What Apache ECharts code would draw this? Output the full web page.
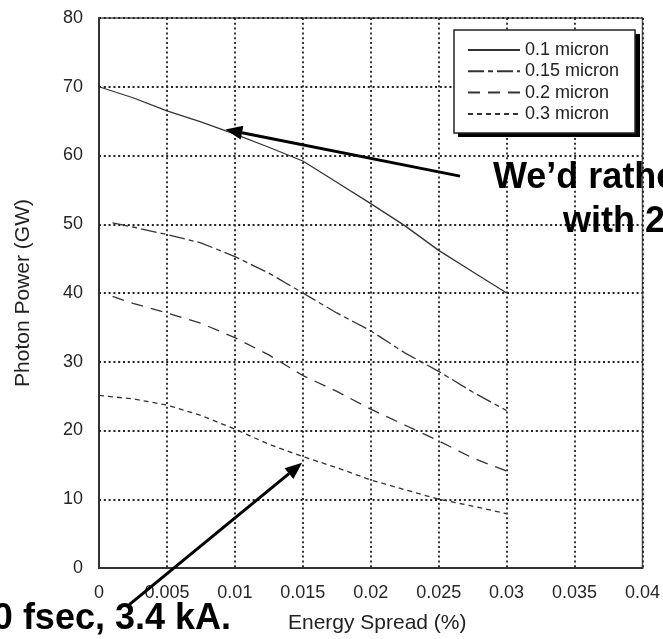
<!DOCTYPE html>
<html>
<head>
<meta charset="utf-8">
<script src="https://cdn.jsdelivr.net/npm/echarts@6/dist/echarts.min.js"></script>
<style>
  html, body { margin: 0; padding: 0; background: #fff; }
  #chart { width: 663px; height: 639px; }
</style>
</head>
<body>
<div id="chart"></div>
<script>
(function () {
  "use strict";
  const chart = echarts.init(document.getElementById("chart"));

  // energy spread (%) sample points
  const X_FULL = [0, 0.0025, 0.005, 0.0075, 0.01, 0.0125, 0.015, 0.0175, 0.02, 0.0225, 0.025, 0.0275, 0.03];
  const X_LATE = [0.001, 0.0025, 0.005, 0.0075, 0.01, 0.0125, 0.015, 0.0175, 0.02, 0.0225, 0.025, 0.0275, 0.03];
  // photon power (GW)
  const P_010 = [70.0, 68.4, 66.5, 64.9, 63.1, 61.2, 59.2, 56.1, 53.0, 49.8, 46.2, 43.1, 40.0];
  const P_015 = [50.2, 49.6, 48.5, 47.3, 45.3, 42.9, 40.0, 37.1, 34.5, 31.3, 28.6, 25.6, 22.9];
  const P_020 = [39.5, 38.5, 37.1, 35.6, 33.5, 31.0, 28.0, 25.7, 23.1, 20.8, 18.5, 16.0, 14.1];
  const P_030 = [25.1, 24.6, 23.7, 22.2, 20.2, 18.0, 16.2, 14.6, 12.8, 11.4, 10.0, 9.0, 7.9];
  const NAMES = ["0.1 micron", "0.15 micron", "0.2 micron", "0.3 micron"];

  const zip = (xs, ys) => xs.map((x, i) => [x, ys[i]]);
  const FONT = '"Liberation Sans", Arial, sans-serif';
  const BOLD = 'bold 36px "Liberation Sans", Arial, sans-serif';

  const curve = (name, xs, ys, type) => ({
    name, type: "line", data: zip(xs, ys), symbol: "none", smooth: false,
    lineStyle: { color: "#333", width: 1.3, type },
    itemStyle: { color: "#333" },
  });

  chart.setOption({
    animation: false,
    grid: { left: 99, right: 13, top: 18, bottom: 67, show: true, borderColor: "#555", borderWidth: 1.5 },
    legend: {
      orient: "vertical", left: 454, top: 30,
      padding: [11, 16, 10, 13],
      itemWidth: 52, itemHeight: 14, itemGap: 3.3,
      backgroundColor: "#fff", borderColor: "#222", borderWidth: 1.5,
      itemStyle: { opacity: 0 },
      textStyle: { fontSize: 18, lineHeight: 18, color: "#222", fontFamily: FONT },
      data: NAMES,
    },
    xAxis: {
      type: "value", min: 0, max: 0.04, interval: 0.005,
      name: "Energy Spread (%)", nameLocation: "middle", nameGap: 45,
      nameTextStyle: { fontSize: 21, color: "#222", fontFamily: FONT, padding: [0, 0, 0, 13] },
      axisLine: { show: true, lineStyle: { color: "#333", width: 2 } },
      axisTick: { show: false },
      axisLabel: { fontSize: 18, color: "#262626", fontFamily: FONT, margin: 16 },
      splitLine: { show: true, lineStyle: { color: "#222", width: 1.8, type: [2, 2.8] } },
    },
    yAxis: {
      type: "value", min: 0, max: 80, interval: 10,
      name: "Photon Power (GW)", nameLocation: "middle", nameGap: 65,
      nameTextStyle: { fontSize: 21, color: "#222", fontFamily: FONT },
      axisLine: { show: true, lineStyle: { color: "#333", width: 2 } },
      axisTick: { show: false },
      axisLabel: { fontSize: 18, color: "#262626", fontFamily: FONT, margin: 16 },
      splitLine: { show: true, lineStyle: { color: "#222", width: 1.8, type: [2, 2.8] } },
    },
    series: [
      curve(NAMES[0], X_FULL, P_010, "solid"),
      curve(NAMES[1], X_LATE, P_015, [16, 4, 5, 4]),
      curve(NAMES[2], X_LATE, P_020, [12, 8]),
      curve(NAMES[3], X_FULL, P_030, [5, 4]),
    ],
  });

  // annotation arrows, [tail, tip] in data coordinates
  const ARROWS = [
    [[0.02657, 57.0], [0.0093, 63.8]],
    [[0.00225, -5.3], [0.01495, 15.3]],
  ];

  function arrow(from, to) {
    const a = chart.convertToPixel({ gridIndex: 0 }, from);
    const b = chart.convertToPixel({ gridIndex: 0 }, to);
    const dx = b[0] - a[0], dy = b[1] - a[1];
    const len = Math.hypot(dx, dy), ux = dx / len, uy = dy / len;
    const hl = 17, hw = 7;
    const base = [b[0] - ux * hl, b[1] - uy * hl];
    return [
      { type: "line", z: 100, shape: { x1: a[0], y1: a[1], x2: base[0], y2: base[1] }, style: { stroke: "#000", lineWidth: 3 } },
      { type: "polygon", z: 100, shape: { points: [b, [base[0] - uy * hw, base[1] + ux * hw], [base[0] + uy * hw, base[1] - ux * hw]] }, style: { fill: "#000" } },
    ];
  }

  // hard drop shadow behind the legend box
  const legendShadow = { type: "rect", z: 3, shape: { x: 458, y: 34, width: 182, height: 103 }, style: { fill: "#000" } };

  const texts = [
    { type: "text", z: 101, x: 493, y: 178, style: { text: "We\u2019d rather", font: BOLD, fill: "#000", verticalAlign: "middle" } },
    { type: "text", z: 101, x: 563, y: 222, style: { text: "with 2", font: BOLD, fill: "#000", verticalAlign: "middle" } },
    { type: "text", z: 101, x: 231, y: 619, style: { text: "20 fsec, 3.4 kA.", font: BOLD, fill: "#000", align: "right", verticalAlign: "middle" } },
  ];

  chart.setOption({ graphic: [legendShadow].concat(ARROWS.flatMap(([t, h]) => arrow(t, h)), texts) });
})();
</script>
</body>
</html>
